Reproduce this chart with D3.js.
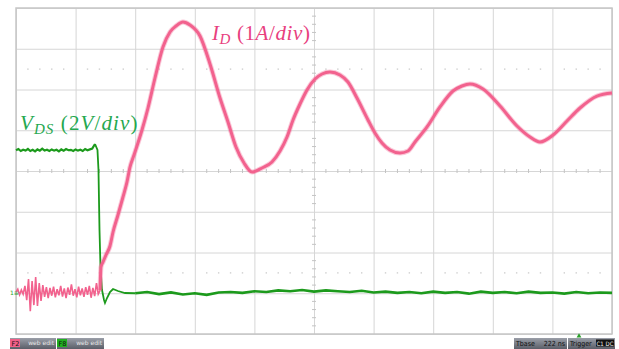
<!DOCTYPE html>
<html>
<head>
<meta charset="utf-8">
<script src="https://cdn.jsdelivr.net/npm/d3@7"></script>
<style>
  body { margin: 0; background: #fff; }
  svg { display: block; }
</style>
</head>
<body>
<svg id="scope" width="619" height="349"></svg>
<script>
// screen in divisions: 10 horizontal, 8 vertical (centre = 0)
const xDivs = 10;
const yDivs = 8;
const dottedLevels = [2.5, -2.5];

// I_D trace (1 A/div), [time div, value div]
const idNoise = [
  [0.00, -2.97], [0.03, -2.90], [0.06, -3.04], [0.09, -2.92], [0.12, -3.02], [0.15, -2.82],
  [0.18, -3.17], [0.21, -2.65], [0.24, -3.44], [0.27, -2.70], [0.30, -3.29], [0.33, -2.60],
  [0.36, -3.31], [0.39, -2.75], [0.42, -3.19], [0.45, -2.80], [0.48, -3.09], [0.51, -2.85],
  [0.54, -3.12], [0.57, -2.87], [0.60, -3.06], [0.63, -2.84], [0.66, -3.10], [0.69, -2.90],
  [0.72, -3.05], [0.75, -2.82], [0.78, -3.08], [0.81, -2.88], [0.84, -3.12], [0.87, -2.86],
  [0.90, -3.04], [0.93, -2.78], [0.96, -3.06], [0.99, -2.90], [1.02, -3.10], [1.05, -2.84],
  [1.08, -3.05], [1.11, -2.88], [1.14, -3.09], [1.17, -2.85], [1.20, -3.04], [1.23, -2.82],
  [1.26, -3.11], [1.29, -2.87], [1.32, -3.07], [1.35, -2.75], [1.38, -3.02], [1.41, -2.93]
];
const idRinging = [
  [1.426, -2.356], [1.460, -2.233], [1.510, -2.061], [1.577, -1.840], [1.628, -1.497],
  [1.711, -1.080], [1.795, -0.638], [1.862, -0.270], [1.913, 0.098], [1.980, 0.393],
  [2.030, 0.613], [2.114, 1.006], [2.215, 1.546], [2.332, 2.282], [2.466, 3.043],
  [2.584, 3.411], [2.685, 3.558], [2.802, 3.656], [2.919, 3.583], [3.087, 3.313],
  [3.255, 2.626], [3.423, 1.791], [3.557, 1.202], [3.691, 0.589], [3.826, 0.196],
  [3.960, -0.025], [4.128, 0.074], [4.295, 0.221], [4.430, 0.491], [4.547, 0.834],
  [4.648, 1.252], [4.765, 1.644], [4.883, 1.988], [5.017, 2.258], [5.134, 2.380],
  [5.268, 2.429], [5.436, 2.356], [5.570, 2.184], [5.721, 1.791], [5.906, 1.252],
  [6.023, 0.933], [6.141, 0.687], [6.275, 0.515], [6.443, 0.442], [6.577, 0.491],
  [6.695, 0.712], [6.896, 1.080], [7.114, 1.571], [7.332, 1.963], [7.483, 2.086],
  [7.617, 2.135], [7.836, 2.012], [8.121, 1.595], [8.406, 1.104], [8.624, 0.834],
  [8.792, 0.712], [9.010, 0.883], [9.245, 1.227], [9.463, 1.546], [9.748, 1.840],
  [10.0, 1.914]
];

// V_DS trace (2 V/div)
const vdsOff = [
  [0.00, 0.51], [0.04, 0.54], [0.08, 0.49], [0.12, 0.52], [0.16, 0.50], [0.20, 0.54],
  [0.24, 0.49], [0.28, 0.52], [0.32, 0.48], [0.36, 0.53], [0.40, 0.50], [0.44, 0.55],
  [0.48, 0.50], [0.52, 0.52], [0.56, 0.49], [0.60, 0.53], [0.64, 0.50], [0.68, 0.52],
  [0.72, 0.48], [0.76, 0.53], [0.80, 0.50], [0.84, 0.54], [0.88, 0.51], [0.92, 0.52],
  [0.96, 0.49], [1.00, 0.53], [1.04, 0.50], [1.08, 0.52], [1.12, 0.49], [1.16, 0.54],
  [1.20, 0.51], [1.24, 0.53], [1.28, 0.55], [1.30, 0.60], [1.326, 0.663]
];
const vdsFall = [
  [1.367, 0.515], [1.384, 0.025], [1.401, -1.448], [1.418, -2.380], [1.443, -2.92],
  [1.477, -3.166], [1.493, -3.239], [1.527, -3.117], [1.577, -2.969], [1.628, -2.896],
  [1.711, -2.945], [1.829, -2.994]
];
const vdsOn = [
  [2.0, -3.00], [2.2, -2.97], [2.4, -3.02], [2.6, -2.98], [2.8, -3.03], [3.0, -3.00],
  [3.2, -3.04], [3.4, -2.98], [3.6, -2.97], [3.8, -2.99], [4.0, -2.95], [4.2, -2.97],
  [4.4, -2.93], [4.6, -2.95], [4.8, -2.92], [5.0, -2.96], [5.2, -2.93], [5.4, -2.95],
  [5.6, -2.97], [5.8, -2.94], [6.0, -2.98], [6.2, -2.96], [6.4, -2.99], [6.6, -2.97],
  [6.8, -3.00], [7.0, -2.96], [7.2, -2.99], [7.4, -2.97], [7.6, -3.01], [7.8, -2.96],
  [8.0, -2.99], [8.2, -2.97], [8.4, -3.00], [8.6, -2.96], [8.8, -2.99], [9.0, -2.98],
  [9.2, -3.01], [9.4, -2.97], [9.6, -3.00], [9.8, -2.98], [10.0, -2.99]
];

const pink = "#f2628e";
const green = "#1c9a1c";

const svg = d3.select("#scope");
const plot = { left: 16, right: 612, top: 8, bottom: 334 };

const x = d3.scaleLinear().domain([0, xDivs]).range([plot.left, plot.right]);
const y = d3.scaleLinear().domain([-yDivs / 2, yDivs / 2]).range([plot.bottom, plot.top]);

// grid
svg.append("g")
  .attr("transform", "translate(0," + plot.bottom + ")")
  .call(d3.axisBottom(x).ticks(xDivs).tickSize(-(plot.bottom - plot.top)).tickFormat(""))
  .call(g => g.select(".domain").remove())
  .call(g => g.selectAll("line").attr("stroke", "#d6d6d6"));

svg.append("g")
  .attr("transform", "translate(" + plot.left + ",0)")
  .call(d3.axisLeft(y).ticks(yDivs).tickSize(-(plot.right - plot.left)).tickFormat(""))
  .call(g => g.select(".domain").remove())
  .call(g => g.selectAll("line").attr("stroke", "#d6d6d6"));

// minor ticks on centre cross
const minorX = d3.range(0, xDivs * 5 + 1).map(i => i / 5).filter(v => v % 1 !== 0);
const minorY = d3.range(-yDivs * 5 / 2, yDivs * 5 / 2 + 1).map(i => i / 5).filter(v => Math.abs(v % 1) > 1e-6);

svg.append("g").selectAll("line").data(minorX).join("line")
  .attr("x1", d => x(d)).attr("x2", d => x(d))
  .attr("y1", y(0) - 2).attr("y2", y(0) + 2)
  .attr("stroke", "#c4c4c4");
svg.append("g").selectAll("line").data(minorY).join("line")
  .attr("y1", d => y(d)).attr("y2", d => y(d))
  .attr("x1", x(xDivs / 2) - 2).attr("x2", x(xDivs / 2) + 2)
  .attr("stroke", "#c4c4c4");

// dotted reference levels
dottedLevels.forEach(level => {
  svg.append("g").selectAll("rect").data(minorX).join("rect")
    .attr("x", d => x(d) - 0.7).attr("y", y(level) - 0.7)
    .attr("width", 1.4).attr("height", 1.4)
    .attr("fill", "#cfcfcf");
});

// border
svg.append("rect")
  .attr("x", plot.left).attr("y", plot.top)
  .attr("width", plot.right - plot.left).attr("height", plot.bottom - plot.top)
  .attr("fill", "none").attr("stroke", "#c6c6c6").attr("stroke-width", 1.5);

// traces
const line = d3.line().x(d => x(d[0])).y(d => y(d[1]));
const smooth = d3.line().x(d => x(d[0])).y(d => y(d[1])).curve(d3.curveMonotoneX);

svg.append("path").datum(vdsOff).attr("d", line)
  .attr("fill", "none").attr("stroke", green).attr("stroke-width", 2.2);
svg.append("path").datum([vdsOff[vdsOff.length - 1]].concat(vdsFall, [vdsOn[0]])).attr("d", line)
  .attr("fill", "none").attr("stroke", green).attr("stroke-width", 1.8);
svg.append("path").datum(vdsOn).attr("d", line)
  .attr("fill", "none").attr("stroke", green).attr("stroke-width", 2.6);

svg.append("path").datum(idNoise).attr("d", line)
  .attr("fill", "none").attr("stroke", pink).attr("stroke-width", 1.6);
const ringing = [idNoise[idNoise.length - 1]].concat(idRinging);
svg.append("path").datum(ringing).attr("d", smooth)
  .attr("fill", "none").attr("stroke", pink).attr("stroke-width", 5)
  .attr("stroke-opacity", 0.35).attr("stroke-linejoin", "round");
svg.append("path").datum(ringing).attr("d", smooth)
  .attr("fill", "none").attr("stroke", pink).attr("stroke-width", 3)
  .attr("stroke-linejoin", "round");

// labels
const serif = "'Liberation Serif', 'DejaVu Serif', serif";
const idLabel = svg.append("text")
  .attr("x", 212).attr("y", 40)
  .attr("font-family", serif).attr("font-size", 21).attr("letter-spacing", 0.6).attr("fill", "#e8407e");
idLabel.append("tspan").attr("font-style", "italic").text("I");
idLabel.append("tspan").attr("font-style", "italic").attr("font-size", 15).attr("dy", 4).text("D");
idLabel.append("tspan").attr("dy", -4).text(" (1");
idLabel.append("tspan").attr("font-style", "italic").text("A");
idLabel.append("tspan").text("/");
idLabel.append("tspan").attr("font-style", "italic").text("div");
idLabel.append("tspan").text(")");

const vdsLabel = svg.append("text")
  .attr("x", 20).attr("y", 130)
  .attr("font-family", serif).attr("font-size", 21).attr("letter-spacing", 1.1).attr("fill", "#25a84f");
vdsLabel.append("tspan").attr("font-style", "italic").text("V");
vdsLabel.append("tspan").attr("font-style", "italic").attr("font-size", 15).attr("dy", 4).text("DS");
vdsLabel.append("tspan").attr("dy", -4).text(" (2");
vdsLabel.append("tspan").attr("font-style", "italic").text("V");
vdsLabel.append("tspan").text("/");
vdsLabel.append("tspan").attr("font-style", "italic").text("div");
vdsLabel.append("tspan").text(")");

// ground marker of the channel
svg.append("text")
  .attr("x", 10).attr("y", y(-2.97) + 2.5)
  .attr("font-family", "'DejaVu Sans', sans-serif").attr("font-size", 6)
  .attr("fill", "#2aa02a").text("1≡");

// status bar
const defs = svg.append("defs");
const grad = defs.append("linearGradient").attr("id", "bar").attr("x1", 0).attr("y1", 0).attr("x2", 0).attr("y2", 1);
grad.append("stop").attr("offset", 0).attr("stop-color", "#9a9ea8");
grad.append("stop").attr("offset", 1).attr("stop-color", "#5a5e68");

const traceBoxes = [
  { name: "F2", color: "#f06088", label: "web edit", x0: 10, w: 46 },
  { name: "F8", color: "#20b020", label: "web edit", x0: 57, w: 47 }
];
traceBoxes.forEach(b => {
  const g = svg.append("g").attr("transform", "translate(" + b.x0 + ",338)");
  g.append("rect").attr("width", b.w).attr("height", 11).attr("fill", "url(#bar)");
  g.append("rect").attr("width", 10).attr("height", 8).attr("y", 1).attr("fill", b.color);
  g.append("text").attr("x", 1.5).attr("y", 7.5).attr("font-size", 6.5)
    .attr("font-family", "'DejaVu Sans', sans-serif").attr("fill", "#111").text(b.name);
  g.append("text").attr("x", b.w - 2).attr("y", 7).attr("text-anchor", "end").attr("font-size", 6)
    .attr("font-family", "'DejaVu Sans', sans-serif").attr("fill", "#e8e8e8").text(b.label);
});

const tb = svg.append("g").attr("transform", "translate(514,338)");
tb.append("rect").attr("width", 53).attr("height", 11).attr("fill", "url(#bar)");
tb.append("text").attr("x", 2).attr("y", 8).attr("font-size", 7)
  .attr("font-family", "'DejaVu Sans Condensed', 'DejaVu Sans', sans-serif").attr("fill", "#111").text("Tbase");
tb.append("text").attr("x", 51).attr("y", 8).attr("text-anchor", "end").attr("font-size", 7)
  .attr("font-family", "'DejaVu Sans Condensed', 'DejaVu Sans', sans-serif").attr("fill", "#111").text("222 ns");

const tr = svg.append("g").attr("transform", "translate(568,338)");
tr.append("rect").attr("width", 47).attr("height", 11).attr("fill", "url(#bar)");
tr.append("text").attr("x", 2).attr("y", 8).attr("font-size", 7)
  .attr("font-family", "'DejaVu Sans Condensed', 'DejaVu Sans', sans-serif").attr("fill", "#111").text("Trigger");
tr.append("rect").attr("x", 28).attr("y", 1.5).attr("width", 18).attr("height", 7).attr("fill", "#111");
tr.append("text").attr("x", 37).attr("y", 7.5).attr("text-anchor", "middle").attr("font-size", 6)
  .attr("font-family", "'DejaVu Sans Condensed', 'DejaVu Sans', sans-serif").attr("fill", "#eee").text("C1 DC");

// trigger position arrow
svg.append("path")
  .attr("d", d3.symbol(d3.symbolTriangle, 10)())
  .attr("transform", "translate(579,336)")
  .attr("fill", "#2aa02a");
</script>
</body>
</html>
